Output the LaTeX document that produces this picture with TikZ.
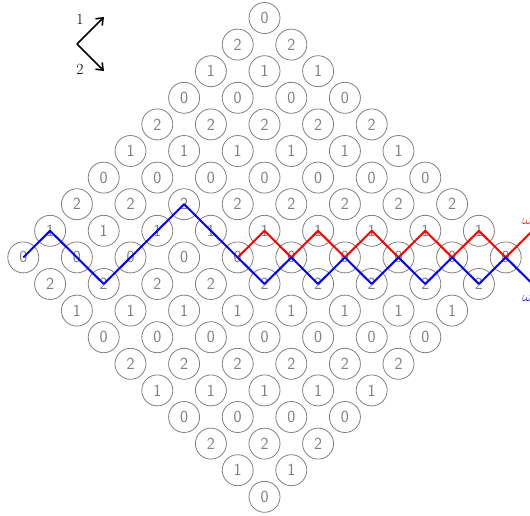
\documentclass[tikz,border=0pt]{standalone}
\usepackage{fontspec}
\usetikzlibrary{arrows.meta}
\begin{document}
\begin{tikzpicture}[x=1pt,y=-1pt,
  cnode/.style={circle,draw=gray,text=gray,minimum size=31pt,inner sep=0pt,line width=0.8pt,font=\sffamily\fontsize{17}{19}\selectfont},
  pathline/.style={line width=2pt,line join=round},
  legarrow/.style={line width=1.6pt,-{Straight Barb[length=6pt,width=9.5pt]}},
  legtext/.style={inner sep=0pt,font=\fontsize{15.5}{18}\selectfont},
  omegalab/.style={inner sep=0pt,font=\fontsize{14.4}{17}\selectfont}]
\useasboundingbox (0,0) rectangle (530,515);
\foreach \a in {0,...,9}{
  \foreach \b in {0,...,9}{
    \pgfmathsetmacro\px{264.5+26.8*(\a-\b)}
    \pgfmathsetmacro\py{18+26.6*(\a+\b)}
    \pgfmathtruncatemacro\lab{mod(3-mod(\a+\b,3),3)}
    \node[cnode] (n-\a-\b) at (\px,\py) {\lab};
  }
}
\coordinate (rend) at (532.5,230.8);
\coordinate (bend) at (532.5,284.0);
\draw[pathline,red] (n-4-5.center) -- (n-4-4.center) -- (n-5-4.center) -- (n-5-3.center)
  -- (n-6-3.center) -- (n-6-2.center) -- (n-7-2.center) -- (n-7-1.center)
  -- (n-8-1.center) -- (n-8-0.center) -- (n-9-0.center) -- (rend);
\draw[pathline,blue] (n-0-9.center) -- (n-0-8.center) -- (n-1-8.center) -- (n-2-8.center)
  -- (n-2-7.center) -- (n-2-6.center) -- (n-2-5.center) -- (n-3-5.center)
  -- (n-4-5.center) -- (n-5-5.center) -- (n-5-4.center) -- (n-6-4.center)
  -- (n-6-3.center) -- (n-7-3.center) -- (n-7-2.center) -- (n-8-2.center)
  -- (n-8-1.center) -- (n-9-1.center) -- (n-9-0.center) -- (bend);
\node[omegalab,text=red] (wr) at (527,221) {$\omega$};
\node[omegalab,text=blue] (wb) at (527,298) {$\omega$};
% legend
\coordinate (lg) at (77,44);
\coordinate (l1) at (104,17);
\coordinate (l2) at (104,71);
\draw[legarrow] (lg) -- (l1);
\draw[legarrow] (lg) -- (l2);
\node[legtext] (t1) at (80,19) {1};
\node[legtext] (t2) at (80,69) {2};
\end{tikzpicture}
\end{document}
